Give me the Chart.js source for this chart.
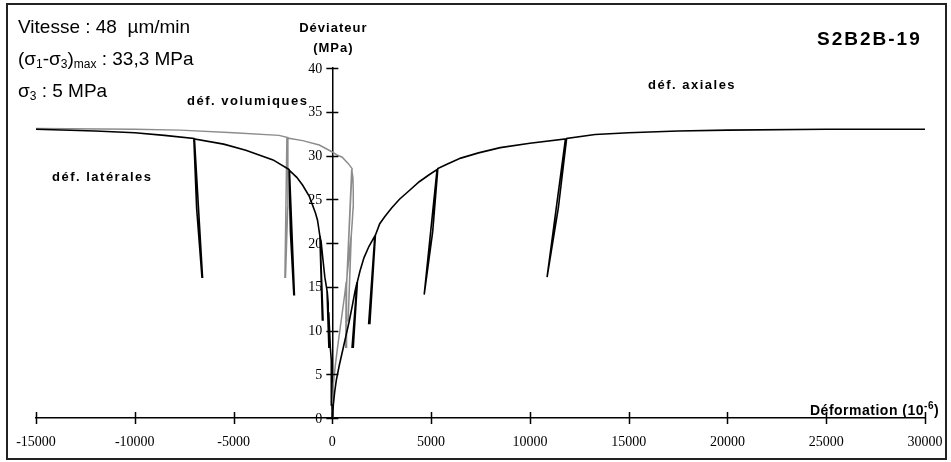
<!DOCTYPE html>
<html>
<head>
<meta charset="utf-8">
<script src="https://cdn.jsdelivr.net/npm/chart.js@4/dist/chart.umd.min.js"></script>
<style>
  body { margin: 0; background: #fff; }
  #wrap { width: 951px; height: 462px; position: relative; }
</style>
</head>
<body>
<div id="wrap"><canvas id="c"></canvas></div>
<script>
// strain in 10^-6, deviator in MPa (with unload/reload loops)
const axialX = [0, 50, 120, 200, 350, 530, 700, 850, 1000, 1150, 1250, 1000, 1060, 1270, 1400, 1600, 1850, 2150, 1840, 1900, 2180, 2400, 2650, 3000, 3400, 3900, 4400, 4900, 5300, 4650, 4680, 5080, 5340, 5800, 6500, 7400, 8500, 10000, 11800, 10870, 10900, 11440, 11860, 13300, 15000, 17500, 20000, 25000, 30000];
const axialY = [0, 1.5, 3, 4.3, 6, 7.8, 9.5, 11, 12.7, 14.5, 15.5, 8.1, 8.1, 15.6, 16.8, 18.3, 19.6, 20.8, 10.8, 10.8, 20.9, 22.2, 23, 24, 25, 26, 27, 27.8, 28.4, 14.1, 14.1, 21.3, 28.5, 29, 29.7, 30.3, 30.9, 31.4, 31.9, 16.1, 16.1, 24, 31.95, 32.4, 32.6, 32.8, 32.9, 33, 33];

const lateralX = [0, -20, -45, -60, -100, -140, -180, -210, -260, -150, -175, -270, -380, -470, -560, -620, -470, -505, -630, -750, -850, -1160, -1500, -1800, -2170, -1920, -1950, -2120, -2190, -3000, -4380, -5500, -6980, -6570, -6600, -6870, -7010, -8500, -10000, -12000, -15000];
const lateralY = [0, 1.5, 3.6, 6.6, 8, 10, 12, 13.1, 14.5, 8.1, 8.1, 14.6, 16.1, 18, 20, 20.7, 11.2, 11.2, 20.8, 22.6, 23.4, 25.3, 26.6, 27.5, 28.3, 14.1, 14.1, 21.2, 28.4, 29.5, 30.6, 31.3, 31.9, 16.1, 16.1, 24, 31.95, 32.3, 32.6, 32.8, 33.0];

const volX = [0, 20, 60, 150, 260, 380, 500, 620, 700, 680, 710, 720, 780, 870, 950, 800, 840, 960, 1010, 1050, 1060, 1040, 980, 700, 740, 1000, 800, 500, 200, 0, -660, -1500, -2300, -2400, -2370, -2260, -2250, -2700, -5000, -7700, -10000, -15000];
const volY = [0, 2, 4, 6, 8, 10, 12, 14, 15.5, 8.1, 8.1, 15.6, 17, 19, 20.8, 11, 11, 20.9, 22.5, 24, 26, 27.5, 28.4, 14.1, 14.1, 28.5, 29.1, 29.8, 30.1, 30.4, 31.2, 31.7, 32.0, 16.1, 16.1, 24, 32.05, 32.3, 32.6, 32.9, 33.0, 33.1];

const xTicks = [-15000, -10000, -5000, 0, 5000, 10000, 15000, 20000, 25000, 30000];
const yTicks = [0, 5, 10, 15, 20, 25, 30, 35, 40];

const toPts = (xs, ys) => xs.map((x, i) => ({ x, y: ys[i] }));

const SANS = '"Liberation Sans", Arial, sans-serif';
const SERIF = '"Liberation Serif", "Times New Roman", serif';

// draw a run of text pieces with different fonts / baseline shifts
function drawRuns(ctx, x, y, runs) {
  let cx = x;
  runs.forEach(([txt, font, dy]) => {
    ctx.font = font;
    ctx.fillText(txt, cx, y + (dy || 0));
    cx += ctx.measureText(txt).width;
  });
}

const decor = {
  id: 'decor',
  beforeDraw(chart) {
    const ctx = chart.ctx;
    ctx.save();
    ctx.strokeStyle = '#222';
    ctx.lineWidth = 2;
    ctx.strokeRect(7, 4, 939, 455);
    ctx.restore();
  },
  afterDraw(chart) {
    const ctx = chart.ctx;
    const xs = chart.scales.x, ys = chart.scales.y;
    const x0 = xs.getPixelForValue(0), y0 = ys.getPixelForValue(0);
    ctx.save();
    // crossing tick marks on both axes
    ctx.strokeStyle = '#000';
    ctx.lineWidth = 1.5;
    ctx.beginPath();
    xTicks.forEach(v => {
      const p = Math.round(xs.getPixelForValue(v)) + 0.5;
      ctx.moveTo(p, y0 - 6); ctx.lineTo(p, y0 + 6);
    });
    yTicks.forEach(v => {
      const p = Math.round(ys.getPixelForValue(v)) + 0.5;
      ctx.moveTo(x0 - 6, p); ctx.lineTo(x0 + 6, p);
    });
    ctx.stroke();

    // y tick labels, left of the centred axis
    ctx.fillStyle = '#000';
    ctx.font = '14px ' + SERIF;
    ctx.textAlign = 'right';
    ctx.textBaseline = 'middle';
    yTicks.forEach(v => ctx.fillText(String(v), x0 - 10, ys.getPixelForValue(v) + 1));

    ctx.textBaseline = 'alphabetic';
    ctx.textAlign = 'left';
    const f = '19px ' + SANS, fs = '12px ' + SANS;
    drawRuns(ctx, 18, 33, [['Vitesse : 48  \u00b5m/min', f]]);
    drawRuns(ctx, 18, 65, [['(\u03c3', f], ['1', fs, 3], ['-\u03c3', f], ['3', fs, 3], [')', f], ['max', fs, 3], [' : 33,3 MPa', f]]);
    drawRuns(ctx, 18, 97, [['\u03c3', f], ['3', fs, 3], [' : 5 MPa', f]]);

    ctx.letterSpacing = '1px';
    ctx.font = 'bold 13px ' + SANS;
    ctx.textAlign = 'center';
    ctx.fillText('D\u00e9viateur', x0 + 1, 32);
    ctx.fillText('(MPa)', x0 + 1, 52);
    ctx.textAlign = 'left';
    ctx.letterSpacing = '1.5px';
    ctx.fillText('d\u00e9f. volumiques', 187, 105);
    ctx.fillText('d\u00e9f. axiales', 648, 89);
    ctx.fillText('d\u00e9f. lat\u00e9rales', 52, 181);
    ctx.letterSpacing = '0.5px';
    drawRuns(ctx, 810, 415, [['D\u00e9formation (10', 'bold 14px ' + SANS], ['-6', 'bold 10px ' + SANS, -6], [')', 'bold 14px ' + SANS]]);
    ctx.letterSpacing = '2px';
    ctx.font = 'bold 19px ' + SANS;
    ctx.fillText('S2B2B-19', 817, 45);
    ctx.restore();
  }
};

new Chart(document.getElementById('c'), {
  type: 'scatter',
  data: {
    datasets: [
      { label: 'déf. axiales', data: toPts(axialX, axialY), borderColor: '#000', borderWidth: 1.6 },
      { label: 'déf. latérales', data: toPts(lateralX, lateralY), borderColor: '#000', borderWidth: 1.6 },
      { label: 'déf. volumiques', data: toPts(volX, volY), borderColor: '#8c8c8c', borderWidth: 1.5 }
    ]
  },
  options: {
    responsive: true,
    maintainAspectRatio: false,
    animation: false,
    showLine: true,
    elements: { point: { radius: 0, hoverRadius: 0 }, line: { tension: 0, fill: false } },
    layout: { padding: { left: 36, right: 26, top: 68, bottom: 0 } },
    plugins: { legend: { display: false }, tooltip: { enabled: false } },
    scales: {
      x: {
        type: 'linear',
        position: 'bottom',
        min: -15000, max: 30000,
        afterFit: s => { s.height = 44; s.paddingLeft = 0; s.paddingRight = 0; },
        afterBuildTicks: s => { s.ticks = xTicks.map(v => ({ value: v })); },
        grid: { drawOnChartArea: false, drawTicks: false },
        border: { color: '#000', width: 1.5 },
        ticks: { color: '#000', font: { family: SERIF, size: 14 }, padding: 16, maxRotation: 0, callback: v => String(v) }
      },
      y: {
        type: 'linear',
        position: { x: 0 },
        min: 0, max: 40,
        afterFit: s => { s.width = 0; },
        afterBuildTicks: s => { s.ticks = yTicks.map(v => ({ value: v })); },
        grid: { drawOnChartArea: false, drawTicks: false },
        border: { color: '#000', width: 1.5 },
        ticks: { display: false }
      }
    }
  },
  plugins: [decor]
});
</script>
</body>
</html>
